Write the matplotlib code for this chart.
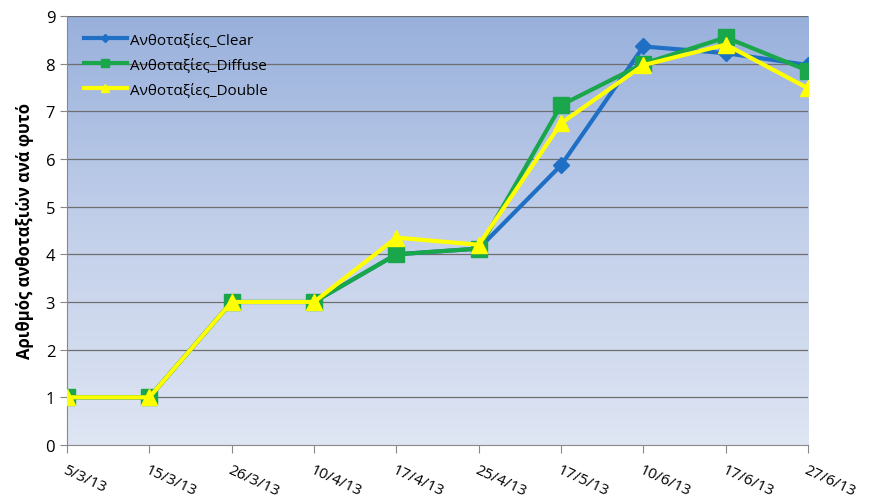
import numpy as np
import matplotlib
matplotlib.use("Agg")
import matplotlib.pyplot as plt
from matplotlib.colors import LinearSegmentedColormap

plt.rcParams['font.family'] = ['Open Sans', 'DejaVu Sans']

# data
dates = ["5/3/13", "15/3/13", "26/3/13", "10/4/13", "17/4/13",
         "25/4/13", "17/5/13", "10/6/13", "17/6/13", "27/6/13"]
clear = [1, 1, 3, 3, 4.0, 4.12, 5.87, 8.36, 8.22, 7.97]
diffuse = [1, 1, 3, 3, 4.0, 4.12, 7.13, 8.0, 8.55, 7.85]
double = [1, 1, 3, 3, 4.35, 4.2, 6.75, 7.97, 8.4, 7.48]

fig = plt.figure(figsize=(8.72, 5.02), dpi=100)
ax = fig.add_axes([0.0768, 0.1116, 0.85, 0.8546])

x = np.arange(len(dates))

# gradient background of the plot area
cmap = LinearSegmentedColormap.from_list("bg", ["#dee5f3", "#c3d0ea", "#98b0dc"])
grad = np.linspace(0, 1, 256).reshape(-1, 1)
ax.imshow(grad, cmap=cmap, origin="lower", aspect="auto",
          extent=[0, len(dates) - 1, 0, 9], zorder=0)

for yv in range(1, 10):
    ax.axhline(yv, color="#6e6e6e", lw=0.9, zorder=1)

ax.plot(x, clear, color="#1f6fc5", lw=3, marker="D", ms=8, zorder=3,
        label="Ανθοταξίες_Clear")
ax.plot(x, diffuse, color="#1aa64a", lw=3, marker="s", ms=11, zorder=4,
        label="Ανθοταξίες_Diffuse")
ax.plot(x, double, color="#ffff00", lw=3, marker="^", ms=11, zorder=5,
        label="Ανθοταξίες_Double")

ax.set_xlim(0, len(dates) - 1)
ax.set_ylim(0, 9)
ax.set_yticks(range(0, 10))
ax.set_xticks(x)
ax.set_xticklabels(dates, rotation=-25, ha="left", va="top",
                   rotation_mode="anchor", fontsize=11)
ax.tick_params(axis="y", labelsize=12, length=5, color="#888888")
ax.tick_params(axis="x", length=6, color="#888888", pad=6)
for s in ["top", "right"]:
    ax.spines[s].set_visible(False)
ax.spines["left"].set_color("#888888")
ax.spines["bottom"].set_color("#888888")
ax.set_ylabel("Αριθμός ανθοταξιών ανά φυτό", fontsize=12, fontweight="bold", labelpad=8)

leg = ax.legend(loc="upper left", frameon=False, fontsize=11, handlelength=2.8,
                borderaxespad=0.7, labelspacing=0.65, handletextpad=0.2,
                markerscale=0.5)

fig.savefig("out.png", dpi=100)
